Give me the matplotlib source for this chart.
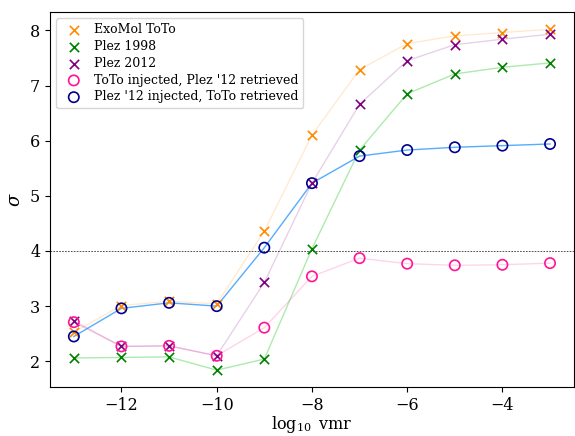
import matplotlib
matplotlib.use("Agg")
import matplotlib.pyplot as plt
import numpy as np

plt.rcParams['font.family'] = 'DejaVu Serif'
plt.rcParams['mathtext.fontset'] = 'dejavuserif'

# log10 vmr grid
log_vmr = [-13, -12, -11, -10, -9, -8, -7, -6, -5, -4, -3]

# detection significance
exomol_toto = [2.53, 3.01, 3.09, 3.04, 4.36, 6.10, 7.29, 7.76, 7.90, 7.96, 8.02]
plez_1998 = [2.06, 2.07, 2.08, 1.84, 2.04, 4.04, 5.83, 6.85, 7.21, 7.33, 7.41]
plez_2012 = [2.73, 2.27, 2.28, 2.10, 3.43, 5.23, 6.66, 7.45, 7.74, 7.84, 7.93]
toto_inj_plez_ret = [2.71, 2.27, 2.28, 2.10, 2.61, 3.54, 3.87, 3.77, 3.74, 3.75, 3.78]
plez_inj_toto_ret = [2.45, 2.96, 3.06, 3.00, 4.06, 5.23, 5.72, 5.83, 5.88, 5.91, 5.94]

fig, ax = plt.subplots(figsize=(5.75, 4.36), dpi=100)
fig.subplots_adjust(left=0.087, right=0.998, top=0.972, bottom=0.112)

# connecting lines (faint)
ax.plot(log_vmr, exomol_toto, color='darkorange', alpha=0.18, lw=1)
ax.plot(log_vmr, plez_1998, color='limegreen', alpha=0.4, lw=1)
ax.plot(log_vmr, plez_2012, color='purple', alpha=0.18, lw=1)
ax.plot(log_vmr, toto_inj_plez_ret, color='deeppink', alpha=0.18, lw=1)
ax.plot(log_vmr, plez_inj_toto_ret, color='dodgerblue', alpha=0.75, lw=1)

ax.scatter(log_vmr, exomol_toto, marker='x', color='darkorange', s=45, lw=1.2, label='ExoMol ToTo', zorder=3)
ax.scatter(log_vmr, plez_1998, marker='x', color='green', s=45, lw=1.2, label='Plez 1998', zorder=3)
ax.scatter(log_vmr, plez_2012, marker='x', color='purple', s=45, lw=1.2, label='Plez 2012', zorder=3)
ax.scatter(log_vmr, toto_inj_plez_ret, marker='o', facecolors='none', edgecolors='deeppink', s=55, lw=1.2,
           label="ToTo injected, Plez '12 retrieved", zorder=3)
ax.scatter(log_vmr, plez_inj_toto_ret, marker='o', facecolors='none', edgecolors='darkblue', s=55, lw=1.2,
           label="Plez '12 injected, ToTo retrieved", zorder=3)

ax.axhline(4, color='k', ls='--', lw=0.6, dashes=(2, 1.5), alpha=0.8)

ax.set_xlabel(r'$\log_{10}$ vmr', fontsize=11.5, labelpad=0)
ax.set_ylabel(r'$\sigma$', fontsize=13, labelpad=4)
ax.tick_params(labelsize=11.5)
ax.legend(loc='upper left', fontsize=9, handletextpad=0.6, borderpad=0.4, labelspacing=0.3)

plt.savefig('out.png', dpi=100)
